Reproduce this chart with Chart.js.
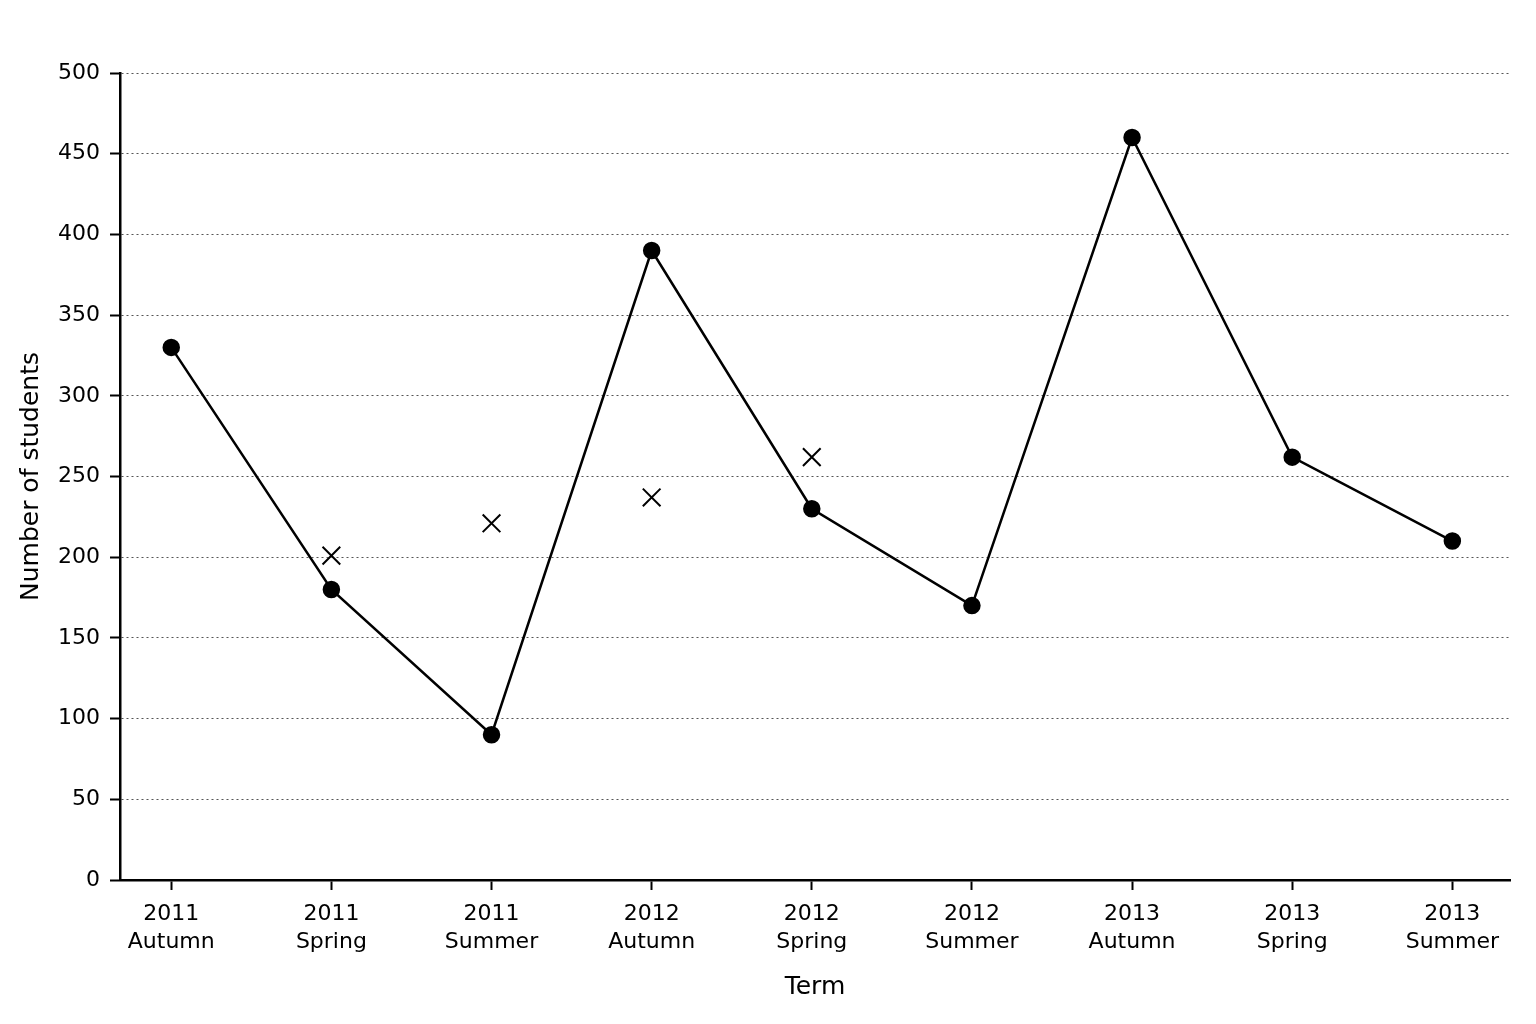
<!DOCTYPE html>
<html>
<head>
<meta charset="utf-8">
<script src="https://cdn.jsdelivr.net/npm/chart.js@4/dist/chart.umd.min.js"></script>
<style>
  html, body { margin: 0; padding: 0; background: #fff; }
  #wrap { width: 1536px; height: 1024px; }
</style>
</head>
<body>
<div id="wrap"><canvas id="c" width="1536" height="1024"></canvas></div>
<script>
const terms = ['2011 Autumn', '2011 Spring', '2011 Summer', '2012 Autumn', '2012 Spring', '2012 Summer', '2013 Autumn', '2013 Spring', '2013 Summer'];
const students = [330, 180, 90, 390, 230, 170, 460, 262, 210];
const movingAverage = [null, 201, 221, 237, 262, null, null, null, null];
const yTicks = [0, 50, 100, 150, 200, 250, 300, 350, 400, 450, 500];

const FONT = "'DejaVu Sans', Verdana, sans-serif";
const studentPoints = students.map((v, i) => ({ x: i, y: v }));
const averagePoints = movingAverage.map((v, i) => ({ x: i, y: v })).filter(p => p.y !== null);

const LEFT_PAD = 16;

new Chart(document.getElementById('c'), {
  type: 'line',
  data: {
    datasets: [
      {
        label: 'Number of students',
        data: studentPoints,
        borderColor: '#000',
        backgroundColor: '#000',
        borderWidth: 2.5,
        pointRadius: 7.5,
        pointStyle: 'circle',
        pointBackgroundColor: '#000',
        pointBorderColor: '#000',
        tension: 0,
        fill: false
      },
      {
        label: 'Moving average',
        data: averagePoints,
        showLine: false,
        pointStyle: 'crossRot',
        pointRadius: 12.5,
        pointBorderWidth: 2,
        pointBorderColor: '#000',
        borderColor: '#000',
        backgroundColor: '#000'
      }
    ]
  },
  options: {
    responsive: false,
    animation: false,
    devicePixelRatio: 1,
    layout: { padding: { top: 73, right: 26, left: LEFT_PAD, bottom: 0 } },
    plugins: { legend: { display: false }, tooltip: { enabled: false } },
    scales: {
      x: {
        type: 'linear',
        min: -0.32,
        max: 8.36,
        afterBuildTicks: s => { s.ticks = terms.map((_, i) => ({ value: i })); },
        afterFit: s => { s.height = 1024 - 880; },
        border: { display: true, color: '#000', width: 2.5 },
        grid: { drawOnChartArea: false, drawTicks: true, tickLength: 10, tickColor: '#000', tickWidth: 2 },
        ticks: {
          autoSkip: false,
          maxRotation: 0,
          padding: 11,
          color: '#000',
          font: { family: FONT, size: 22, lineHeight: 1.25 },
          callback: v => terms[v] ? terms[v].split(' ') : ''
        },
        title: {
          display: true,
          text: 'Term',
          color: '#000',
          font: { family: FONT, size: 25 },
          padding: { top: 0, bottom: 22 }
        }
      },
      y: {
        min: 0,
        max: 500,
        afterBuildTicks: s => { s.ticks = yTicks.map(v => ({ value: v })); },
        afterFit: s => { s.width = 120 - LEFT_PAD; },
        border: { display: true, color: '#000', width: 2.5, dash: [2, 3] },
        grid: {
          color: '#555',
          lineWidth: 1,
          drawTicks: true,
          tickLength: 10,
          tickColor: '#000',
          tickWidth: 2,
          tickBorderDash: [1, 0]
        },
        ticks: {
          padding: 10,
          color: '#000',
          font: { family: FONT, size: 22 }
        },
        title: {
          display: true,
          text: 'Number of students',
          color: '#000',
          font: { family: FONT, size: 25 },
          padding: { top: 0, bottom: 6 }
        }
      }
    }
  }
});
</script>
</body>
</html>
